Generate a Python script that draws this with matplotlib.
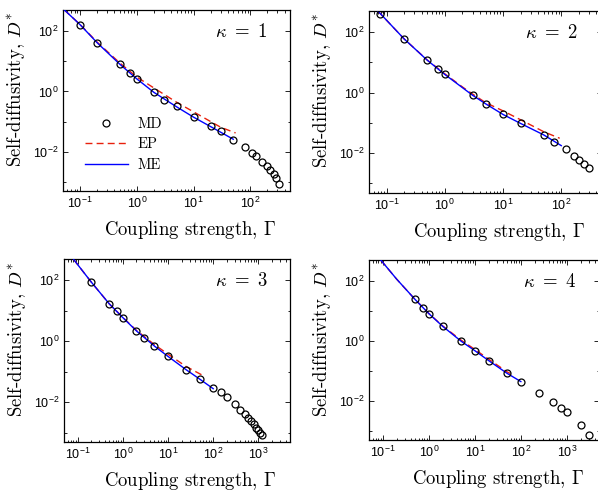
import matplotlib
matplotlib.use("Agg")
import matplotlib.pyplot as plt
from matplotlib.ticker import FixedLocator, LogLocator, NullFormatter
from matplotlib.lines import Line2D

plt.rcParams['mathtext.fontset'] = 'custom'
plt.rcParams['mathtext.rm'] = 'Liberation Sans'
plt.rcParams['mathtext.it'] = 'Liberation Sans:italic'
plt.rcParams['mathtext.bf'] = 'Liberation Sans:bold'
plt.rcParams['font.family'] = ['Liberation Sans', 'DejaVu Sans']
plt.rcParams['axes.unicode_minus'] = True

# ---------------- data ----------------
kappas = [1, 2, 3, 4]

# kappa = 1
g_md1 = [0.1, 0.2, 0.5, 0.75, 1, 2, 3, 5, 10, 20, 30, 50, 80, 105, 128, 160, 195, 222, 257, 285, 320]
d_md1 = [163, 41, 8, 4.0, 2.6, 0.93, 0.53, 0.32, 0.14, 0.07, 0.048, 0.024, 0.0145, 0.0091, 0.0071,
         0.0045, 0.0033, 0.0025, 0.0018, 0.0013, 0.00085]
g_ep1 = [0.053, 0.1, 0.2, 0.5, 1, 2, 5, 10, 20, 30, 55]
d_ep1 = [500, 165, 43, 8.8, 3.0, 1.3, 0.44, 0.21, 0.1, 0.065, 0.042]
g_me1 = [0.053, 0.1, 0.2, 0.5, 1, 2, 5, 10, 20, 50]
d_me1 = [500, 163, 41, 8, 2.6, 0.93, 0.31, 0.14, 0.068, 0.026]

# kappa = 2
g_md2 = [0.077, 0.2, 0.5, 0.75, 1, 3, 5, 10, 20, 50, 75, 120, 165, 200, 245, 300]
d_md2 = [410, 60, 11.8, 6.2, 4.0, 0.82, 0.43, 0.19, 0.096, 0.04, 0.024, 0.0133, 0.0081, 0.0061,
         0.0044, 0.0032]
g_ep2 = [0.071, 0.2, 0.5, 1, 2, 3, 5, 10, 25, 50, 94]
d_ep2 = [500, 60, 12, 4.2, 1.55, 0.9, 0.47, 0.25, 0.102, 0.051, 0.031]
g_me2 = [0.071, 0.2, 0.5, 1, 3, 5, 10, 20, 50, 100]
d_me2 = [500, 60, 11.8, 4.0, 0.82, 0.43, 0.19, 0.096, 0.04, 0.0177]

# kappa = 3
g_md3 = [0.2, 0.5, 0.75, 1, 2, 3, 5, 10, 25, 50, 100, 150, 200, 300, 400, 500, 600, 700, 800,
         900, 1000, 1100, 1200]
d_md3 = [88, 17, 9.6, 6.0, 2.2, 1.32, 0.70, 0.32, 0.118, 0.058, 0.0295, 0.021, 0.0146, 0.0086,
         0.0056, 0.0041, 0.0031, 0.0024, 0.0019, 0.00145, 0.0012, 0.001, 0.00083]
g_ep3 = [0.082, 0.2, 0.5, 1, 2, 5, 10, 25, 60]
d_ep3 = [480, 88, 17, 6.1, 2.3, 0.78, 0.38, 0.15, 0.075]
g_me3 = [0.082, 0.2, 0.5, 1, 2, 5, 10, 25, 50, 100]
d_me3 = [480, 88, 17, 6.0, 2.2, 0.70, 0.32, 0.118, 0.058, 0.028]

# kappa = 4
g_md4 = [0.5, 0.75, 1, 2, 5, 10, 20, 50, 100, 250, 500, 750, 1000, 2000, 3000]
d_md4 = [24.5, 12.6, 8.2, 3.1, 1.0, 0.48, 0.224, 0.085, 0.045, 0.0186, 0.0092, 0.0061, 0.0044,
         0.0016, 0.00074]
g_ep4 = [0.09, 0.2, 0.5, 1, 2, 5, 10, 20, 50, 72]
d_ep4 = [500, 115, 24.5, 8.3, 3.2, 1.08, 0.53, 0.25, 0.095, 0.072]
g_me4 = [0.09, 0.2, 0.5, 1, 2, 5, 10, 20, 50, 100]
d_me4 = [500, 115, 24.5, 8.2, 3.1, 1.0, 0.48, 0.224, 0.085, 0.045]

md_g = [g_md1, g_md2, g_md3, g_md4]
md_d = [d_md1, d_md2, d_md3, d_md4]
ep_g = [g_ep1, g_ep2, g_ep3, g_ep4]
ep_d = [d_ep1, d_ep2, d_ep3, d_ep4]
me_g = [g_me1, g_me2, g_me3, g_me4]
me_d = [d_me1, d_me2, d_me3, d_me4]

x_limits = [(0.05, 500), (0.05, 500), (0.05, 5000), (0.05, 5000)]
y_limits = (5e-4, 500)

# ---------------- figure ----------------
W, H = 598, 494
fig = plt.figure(figsize=(W / 100, H / 100), dpi=100)

# axes rectangles in pixels: left, top, right, bottom
rects_px = [(63, 10, 290, 191), (369, 11, 602, 192.5), (64, 259, 290, 442), (369, 260, 599, 440.3)]

label_font = dict(fontfamily='cmr10', math_fontfamily='cm', fontsize=13.5)
red = '#e8200c'
blue = '#0000ff'

for i, (l, t, r, b) in enumerate(rects_px):
    ax = fig.add_axes([l / W, (H - b) / H, (r - l) / W, (b - t) / H])
    ax.set_xscale('log')
    ax.set_yscale('log')
    ax.plot(ep_g[i], ep_d[i], linestyle=(0, (5, 3)), color=red, lw=1.0, label='EP', zorder=2)
    ax.plot(me_g[i], me_d[i], '-', color=blue, lw=1.0, label='ME', zorder=3)
    ax.plot(md_g[i], md_d[i], 'o', mfc='none', mec='black', mew=0.9, ms=5, label='MD', zorder=4)
    ax.set_xlim(*x_limits[i])
    ax.set_ylim(*y_limits)

    ax.yaxis.set_major_locator(FixedLocator([1e-2, 1e0, 1e2]))
    ax.yaxis.set_minor_locator(FixedLocator([1e-3, 1e-1, 1e1]))
    ax.yaxis.set_minor_formatter(NullFormatter())
    ax.xaxis.set_major_locator(LogLocator(base=10, numticks=20))
    ax.xaxis.set_minor_locator(LogLocator(base=10, subs=range(2, 10), numticks=20))
    ax.xaxis.set_minor_formatter(NullFormatter())
    ax.tick_params(which='both', direction='in', top=True, right=True, labelsize=9, width=0.6)
    ax.tick_params(which='major', length=3.5)
    ax.tick_params(which='minor', length=1.8)
    for s in ax.spines.values():
        s.set_linewidth(0.9)

    width_px = r - l
    ax.set_xlabel(r'Coupling strength, $\Gamma$', **label_font)
    ax.set_ylabel(r'Self-diffusivity, $D^{*}$', **label_font)
    ax.xaxis.set_label_coords(0.56, -0.155)
    ax.yaxis.set_label_coords(-36.0 / width_px, 0.56)

    ax.text(0.785, 0.88, r'$\kappa\ =\ %d$' % kappas[i], transform=ax.transAxes,
            ha='center', va='center', fontsize=13.5, math_fontfamily='cm')

    if i == 0:
        handles = [Line2D([], [], marker='o', ls='none', mfc='none', mec='black', mew=0.9, ms=5),
                   Line2D([], [], ls=(0, (5, 3)), color=red, lw=1.0),
                   Line2D([], [], ls='-', color=blue, lw=1.0)]
        ax.legend(handles, ['MD', 'EP', 'ME'], loc='lower left', bbox_to_anchor=(0.05, 0.05),
                  frameon=False, prop={'family': 'cmr10', 'size': 10.5}, handlelength=3.0,
                  labelspacing=0.45, handletextpad=0.6, borderaxespad=0.3)

fig.savefig('out.png', dpi=100)
